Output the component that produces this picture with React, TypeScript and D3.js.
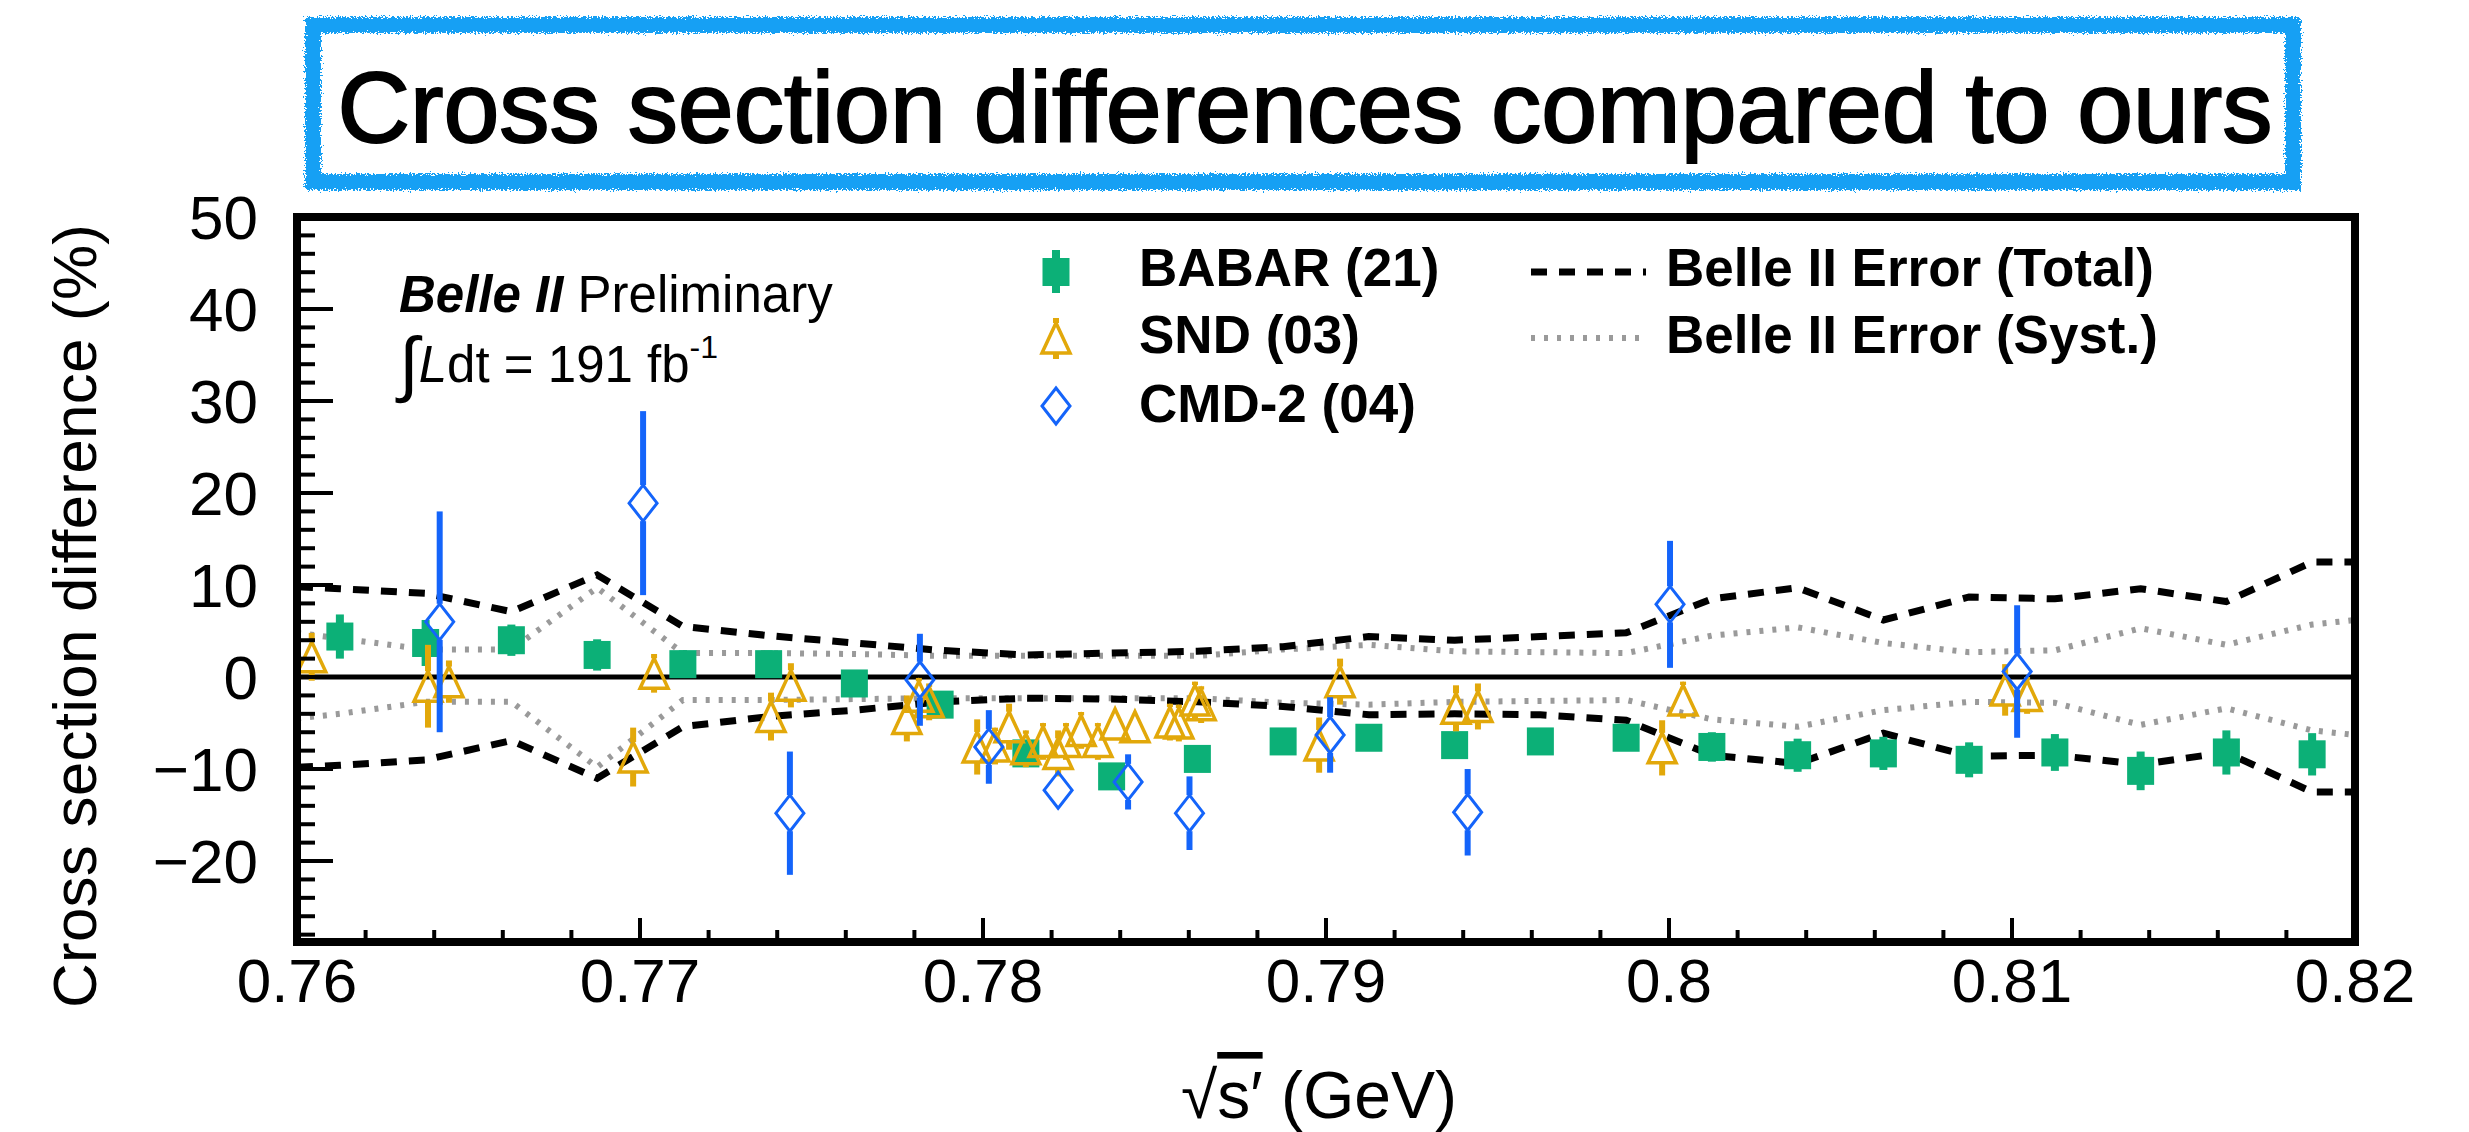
import * as d3 from "d3";

// ---- data ----
const babarX = [0.76125, 0.76375, 0.76625, 0.76875, 0.77125, 0.77375, 0.77625, 0.77875, 0.78125, 0.78375, 0.78625, 0.78875, 0.79125, 0.79375, 0.79625, 0.79875, 0.80125, 0.80375, 0.80625, 0.80875, 0.81125, 0.81375, 0.81625, 0.81875];
const babarY = [4.4, 3.7, 4.0, 2.4, 1.4, 1.4, -0.7, -3.0, -8.3, -10.8, -8.9, -7.0, -6.6, -7.4, -7.0, -6.6, -7.6, -8.5, -8.3, -9.0, -8.2, -10.2, -8.2, -8.4];
const babarErr = [2.4, 2.5, 1.7, 1.7, 1.5, 1.5, 1.2, 1.2, 1.2, 1.2, 1.3, 1.3, 1.3, 1.3, 1.3, 1.4, 1.6, 1.8, 1.8, 1.9, 2.0, 2.1, 2.4, 2.3];

const sndX = [0.76043, 0.76382, 0.76443, 0.7698, 0.77041, 0.77382, 0.7744, 0.77778, 0.77813, 0.77843, 0.77983, 0.78035, 0.78076, 0.78125, 0.78175, 0.78219, 0.78242, 0.78286, 0.78335, 0.78385, 0.78443, 0.78545, 0.78571, 0.78618, 0.78636, 0.7898, 0.79041, 0.79379, 0.79443, 0.7998, 0.80041, 0.8098, 0.81044];
const sndY = [2.2, -1.0, -0.5, -8.7, 0.4, -4.3, -0.9, -4.5, -2.1, -2.7, -7.6, -7.5, -5.4, -7.8, -7.0, -8.3, -7.0, -5.8, -7.0, -5.1, -5.4, -4.9, -5.0, -2.5, -3.0, -7.4, -0.5, -3.4, -3.2, -7.7, -2.5, -1.4, -2.0];
const sndErr = [2.6, 4.5, 2.3, 3.2, 2.1, 2.6, 2.4, 2.5, 2.0, 2.0, 3.0, 2.0, 2.5, 2.0, 2.0, 2.5, 2.0, 2.0, 2.0, 1.5, 1.5, 2.0, 2.0, 2.0, 2.0, 3.0, 2.5, 2.5, 2.5, 3.0, 2.0, 2.8, 2.0];

const cmdX = [0.76416, 0.77009, 0.77437, 0.77816, 0.78017, 0.78219, 0.78423, 0.78602, 0.79012, 0.79413, 0.80003, 0.81015];
const cmdY = [6.0, 18.9, -14.8, -0.3, -7.6, -12.3, -11.4, -14.8, -6.3, -14.7, 7.9, 0.6];
const cmdErr = [12.0, 10.0, 6.7, 5.0, 4.0, 1.5, 3.0, 4.0, 4.1, 4.7, 6.9, 7.2];

// Belle II error envelopes (frame edges + bin centres)
const bandX = [0.76, 0.76125, 0.76375, 0.76625, 0.76875, 0.77125, 0.77375, 0.77625, 0.77875, 0.78125, 0.78375, 0.78625, 0.78875, 0.79125, 0.79375, 0.79625, 0.79875, 0.80125, 0.80375, 0.80625, 0.80875, 0.81125, 0.81375, 0.81625, 0.81875, 0.82];
const totalUp = [9.8, 9.6, 9.1, 7.1, 11.1, 5.5, 4.5, 3.7, 2.9, 2.4, 2.6, 2.8, 3.3, 4.4, 4.0, 4.4, 4.8, 8.5, 9.7, 6.2, 8.7, 8.5, 9.6, 8.2, 12.5, 12.5];
const totalDown = [-9.8, -9.6, -9.0, -6.9, -11.0, -5.4, -4.3, -3.6, -2.7, -2.3, -2.4, -2.7, -3.2, -4.1, -4.0, -4.1, -4.7, -8.5, -9.4, -6.1, -8.6, -8.5, -9.5, -8.2, -12.5, -12.5];
const systUp = [4.8, 4.2, 3.0, 3.0, 9.7, 2.6, 2.6, 2.5, 2.3, 2.3, 2.3, 2.3, 3.0, 3.5, 2.8, 2.7, 2.6, 4.5, 5.4, 3.7, 2.7, 2.9, 5.3, 3.5, 5.7, 6.2];
const systDown = [-4.5, -4.0, -2.7, -2.7, -9.8, -2.5, -2.5, -2.4, -2.3, -2.3, -2.3, -2.3, -2.8, -3.0, -2.7, -2.6, -2.5, -4.6, -5.4, -3.6, -2.7, -2.8, -5.2, -3.4, -5.8, -6.3];

const xTickValues = [0.76, 0.77, 0.78, 0.79, 0.8, 0.81, 0.82];
const xTickLabels = ["0.76", "0.77", "0.78", "0.79", "0.8", "0.81", "0.82"];
const yTickValues = [50, 40, 30, 20, 10, 0, -10, -20];
const yTickLabels = ["50", "40", "30", "20", "10", "0", "\u221210", "\u221220"];

const legendMarkers = ["BABAR (21)", "SND (03)", "CMD-2 (04)"];
const legendLines = ["Belle II Error (Total)", "Belle II Error (Syst.)"];

const GREEN = "#0cb077";
const GOLD = "#e2a80a";
const BLUE = "#1464fa";
const FONT = "'Liberation Sans', Arial, Helvetica, sans-serif";

const W = 2469;
const H = 1132;
const plot = { left: 297, right: 2355, top: 217, bottom: 942 };

export default function App() {
	const x = d3.scaleLinear().domain([0.76, 0.82]).range([plot.left, plot.right]);
	const y = d3.scaleLinear().domain([-28.8, 50]).range([plot.bottom, plot.top]);

	const band = (vals: number[]) =>
		d3
			.line<number>()
			.x((_, i) => x(bandX[i]))
			.y((d) => y(d))(vals) as string;

	const xMinor = x.ticks(30);
	const yMinor = y.ticks(40);

	const triHalfW = 14;
	const triHalfH = 15;
	const diaHalfW = 14;
	const diaHalfH = 18;

	const triPath = (cx: number, cy: number) =>
		`M${cx - triHalfW},${cy + triHalfH}L${cx + triHalfW},${cy + triHalfH}L${cx},${cy - triHalfH}Z`;
	const diaPath = (cx: number, cy: number) =>
		`M${cx},${cy - diaHalfH}L${cx + diaHalfW},${cy}L${cx},${cy + diaHalfH}L${cx - diaHalfW},${cy}Z`;

	// error bar outside an open marker of half height h
	const openBar = (cx: number, v: number, e: number, h: number, color: string, w: number, key: string) => {
		const cy = y(v);
		const top = y(v + e);
		const bot = y(v - e);
		return (
			<g key={key} stroke={color} strokeWidth={w}>
				{top < cy - h && <line x1={cx} x2={cx} y1={top} y2={cy - h} />}
				{bot > cy + h && <line x1={cx} x2={cx} y1={cy + h} y2={bot} />}
			</g>
		);
	};

	return (
		<svg
			width={W}
			height={H}
			viewBox={`0 0 ${W} ${H}`}
			style={{ position: "absolute", left: 0, top: 0, background: "#fff" }}
			fontFamily={FONT}
		>
			<defs>
				<filter id="rough" x="-5%" y="-30%" width="110%" height="160%">
					<feTurbulence type="fractalNoise" baseFrequency="0.6" numOctaves="2" seed="7" />
					<feDisplacementMap in="SourceGraphic" scale="9" />
				</filter>
				<clipPath id="plotClip">
					<rect x={plot.left} y={plot.top} width={plot.right - plot.left} height={plot.bottom - plot.top} />
				</clipPath>
			</defs>

			{/* title box */}
			<rect x={313} y={25} width={1980} height={157} fill="none" stroke="#12a0f4" strokeWidth={16} filter="url(#rough)" />
			<text
				x={1305}
				y={142}
				fontSize={100}
				textAnchor="middle"
				textLength={1935}
				lengthAdjust="spacingAndGlyphs"
				stroke="#000"
				strokeWidth={2}
			>
				Cross section differences compared to ours
			</text>

			{/* data */}
			<g clipPath="url(#plotClip)">
				<line x1={plot.left} x2={plot.right} y1={y(0)} y2={y(0)} stroke="#000" strokeWidth={5} />

				<path d={band(systUp)} fill="none" stroke="#9a9a9a" strokeWidth={6} strokeDasharray="4,9" />
				<path d={band(systDown)} fill="none" stroke="#9a9a9a" strokeWidth={6} strokeDasharray="4,9" />
				<path d={band(totalUp)} fill="none" stroke="#000" strokeWidth={7} strokeDasharray="16,12" />
				<path d={band(totalDown)} fill="none" stroke="#000" strokeWidth={7} strokeDasharray="16,12" />

				{/* BABAR */}
				{babarX.map((bx, i) => (
					<g key={`b${i}`} fill={GREEN}>
						<rect x={x(bx) - 4} y={y(babarY[i] + babarErr[i])} width={8} height={y(babarY[i] - babarErr[i]) - y(babarY[i] + babarErr[i])} />
						<rect x={x(bx) - 13.5} y={y(babarY[i]) - 14} width={27} height={28} />
					</g>
				))}

				{/* SND */}
				{sndX.map((sx, i) => openBar(x(sx), sndY[i], sndErr[i], triHalfH, GOLD, 6, `se${i}`))}
				{sndX.map((sx, i) => (
					<path key={`s${i}`} d={triPath(x(sx), y(sndY[i]))} fill="none" stroke={GOLD} strokeWidth={3.5} strokeLinejoin="miter" />
				))}

				{/* CMD-2 */}
				{cmdX.map((cx, i) => openBar(x(cx), cmdY[i], cmdErr[i], diaHalfH, BLUE, 6, `ce${i}`))}
				{cmdX.map((cx, i) => (
					<path key={`c${i}`} d={diaPath(x(cx), y(cmdY[i]))} fill="none" stroke={BLUE} strokeWidth={3} />
				))}
			</g>

			{/* axes ticks */}
			<g stroke="#000" strokeWidth={4}>
				{yMinor.map((t) => (
					<line key={`ym${t}`} x1={plot.left} x2={plot.left + (t % 10 === 0 ? 36 : 18)} y1={y(t)} y2={y(t)} />
				))}
				{xMinor.map((t, i) => (
					<line key={`xm${i}`} x1={x(t)} x2={x(t)} y1={plot.bottom} y2={plot.bottom - (i % 5 === 0 ? 24 : 12)} />
				))}
			</g>

			{/* frame */}
			<rect x={plot.left} y={plot.top} width={plot.right - plot.left} height={plot.bottom - plot.top} fill="none" stroke="#000" strokeWidth={8} />

			{/* tick labels */}
			{yTickValues.map((t, i) => (
				<text key={`yl${t}`} x={258} y={y(t) + 22} fontSize={62} textAnchor="end">
					{yTickLabels[i]}
				</text>
			))}
			{xTickValues.map((t, i) => (
				<text key={`xl${t}`} x={x(t)} y={1002} fontSize={62} textAnchor="middle">
					{xTickLabels[i]}
				</text>
			))}

			{/* axis titles */}
			<text transform="translate(96,616) rotate(-90)" fontSize={62} textAnchor="middle" textLength={784} lengthAdjust="spacing">
				Cross section difference (%)
			</text>
			<text x={1181} y={1118} fontSize={66}>
				<tspan>√</tspan>
				<tspan style={{ textDecoration: "overline" }}>s′</tspan>
				<tspan> (GeV)</tspan>
			</text>

			{/* Belle II label */}
			<text x={399} y={312} fontSize={51}>
				<tspan fontWeight="bold" fontStyle="italic">Belle II</tspan>
				<tspan> Preliminary</tspan>
			</text>
			<text x={399} y={382} fontSize={51}>
				<tspan fontSize={72} dy={6}>∫</tspan>
				<tspan fontStyle="italic" dy={-6}>L</tspan>
				<tspan>dt = 191 fb</tspan>
				<tspan fontSize={32} dy={-24}>-1</tspan>
			</text>

			{/* legend */}
			<g>
				<rect x={1052} y={250} width={8} height={43} fill={GREEN} />
				<rect x={1042.5} y={258} width={27} height={28} fill={GREEN} />
				<line x1={1056} x2={1056} y1={318} y2={323} stroke={GOLD} strokeWidth={6} />
				<line x1={1056} x2={1056} y1={353} y2={359} stroke={GOLD} strokeWidth={6} />
				<path d={triPath(1056, 338)} fill="none" stroke={GOLD} strokeWidth={3.5} />
				<path d={diaPath(1056, 406)} fill="none" stroke={BLUE} strokeWidth={3} />
				{legendMarkers.map((name, i) => (
					<text key={name} x={1139} y={[286, 353, 422][i]} fontSize={53} fontWeight="bold">
						{name}
					</text>
				))}
				<line x1={1531} x2={1646} y1={272} y2={272} stroke="#000" strokeWidth={7} strokeDasharray="16,12" />
				<line x1={1531} x2={1646} y1={338} y2={338} stroke="#9a9a9a" strokeWidth={6} strokeDasharray="4,9" />
				{legendLines.map((name, i) => (
					<text key={name} x={1666} y={[286, 353][i]} fontSize={53} fontWeight="bold">
						{name}
					</text>
				))}
			</g>
		</svg>
	);
}
